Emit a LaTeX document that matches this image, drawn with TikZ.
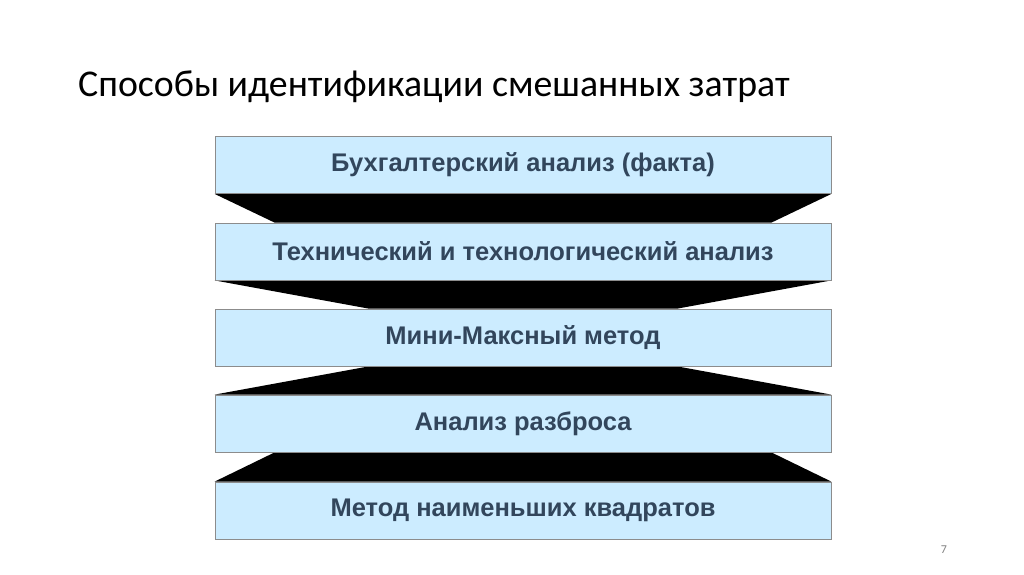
\documentclass[tikz,border=0pt]{standalone}
\usepackage{fontspec}
\setmainfont{Liberation Sans}
\newfontfamily\titlefont{Carlito}
\usetikzlibrary{backgrounds}
\definecolor{boxblue}{RGB}{204,236,255}
\definecolor{boxtext}{RGB}{50,70,92}
\definecolor{boxline}{RGB}{140,140,140}
\tikzset{
  method/.style={draw=boxline, line width=0.8pt, fill=boxblue, text=boxtext,
    minimum width=616pt, minimum height=57pt, inner sep=0pt,
    font=\bfseries\fontsize{25.5}{30}\selectfont},
  link/.style={fill=black}
}
\begin{document}
\begin{tikzpicture}[x=1pt, y=-1pt]
      \useasboundingbox (0,0) rectangle (1024,574);
      \node[anchor=base west, inner sep=0pt, font=\titlefont\fontsize{37.8}{44}\selectfont] (title)
        at (78,96) {Способы идентификации смешанных затрат};
      \draw
        (523,165) node[method] (b1){Бухгалтерский анализ (факта)}
        (523,251.5) node[method] (b2){Технический и технологический анализ}
        (523,337.5) node[method] (b3){Мини-Максный метод}
        (523,423.5) node[method] (b4){Анализ разброса}
        (523,510.5) node[method] (b5){Метод наименьших квадратов};
      \begin{scope}[on background layer]
        \fill[link] (b1.south west) -- (b1.south east)
          -- ([xshift=-60pt]b2.north east) -- ([xshift=60pt]b2.north west) -- cycle;
        \fill[link] (b2.south west) -- (b2.south east)
          -- ([xshift=-154pt]b3.north east) -- ([xshift=154pt]b3.north west) -- cycle;
        \fill[link] ([xshift=154pt]b3.south west) -- ([xshift=-154pt]b3.south east)
          -- (b4.north east) -- (b4.north west) -- cycle;
        \fill[link] ([xshift=60pt]b4.south west) -- ([xshift=-60pt]b4.south east)
          -- (b5.north east) -- (b5.north west) -- cycle;
      \end{scope}
      \node[text=gray, font=\titlefont\fontsize{12}{14}\selectfont] (page) at (944,550) {7};
    \end{tikzpicture}
\end{document}
